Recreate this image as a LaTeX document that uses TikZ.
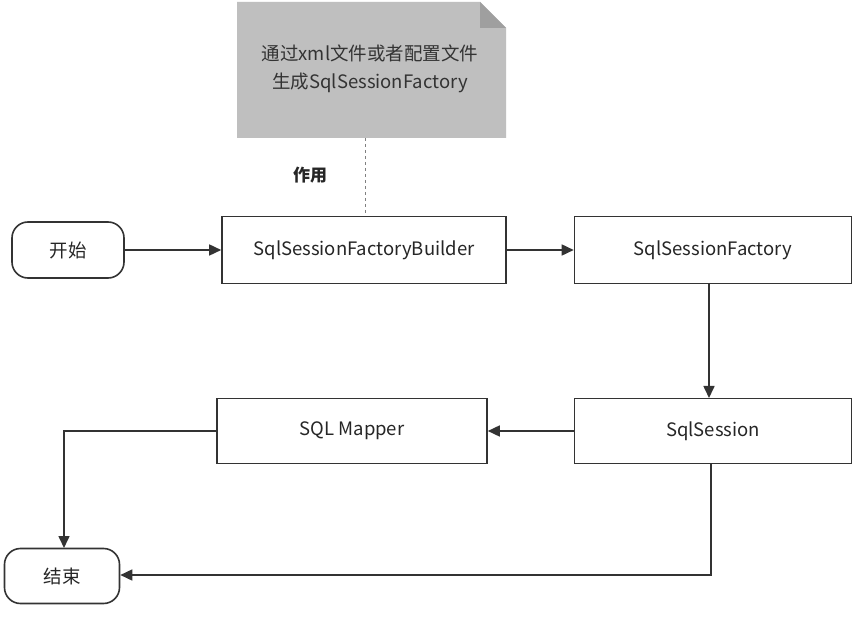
\documentclass[tikz,border=0pt]{standalone}
\usepackage{fontspec}
\setmainfont{Noto Sans CJK SC}
\usetikzlibrary{arrows.meta}
\begin{document}
\begin{tikzpicture}[x=1pt,y=-1pt,
  box/.style={draw=black!80,line width=1.6pt,fill=white,font=\fontsize{18.5}{21}\selectfont,inner sep=0pt,text=black!85},
  arr/.style={-{Triangle[length=12pt,width=11pt]},line width=1.6pt,draw=black!80}]
\useasboundingbox (0,0) rectangle (862,617);
\fill[white] (0,0) rectangle (862,617);
% note
\fill[gray!50] (237,2) -- (480,2) -- (506,28) -- (506,138) -- (237,138) -- cycle;
\fill[gray!75] (480,2) -- (480,28) -- (506,28) -- cycle;
\node[font=\fontsize{18.5}{28}\selectfont,align=center,text=black!80] (note) at (370,69) {通过xml文件或者配置文件\\生成SqlSessionFactory};
\coordinate (nb) at (365,138);
\node[font=\bfseries\fontsize{17}{19}\selectfont,text=black!85] (zy) at (310,175) {作用};
\node[box,rounded corners=16pt,minimum width=112pt,minimum height=56pt] (start) at (68,250) {开始};
\node[box,minimum width=284pt,minimum height=67pt] (b) at (364,250) {SqlSessionFactoryBuilder};
\node[box,minimum width=277pt,minimum height=67pt] (f) at (713,250) {SqlSessionFactory};
\node[box,minimum width=277pt,minimum height=65pt] (s) at (713,431) {SqlSession};
\node[box,minimum width=270pt,minimum height=65pt] (m) at (352,431) {SQL Mapper};
\node[box,rounded corners=16pt,minimum width=115pt,minimum height=55pt] (e) at (62,576) {结束};
\draw[dashed,gray,line width=1pt] (nb) -- (nb |- b.north);
\draw[arr] (start) -- (b);
\draw[arr] (b) -- (f);
\draw[arr] (709,283) -- (709,398);
\draw[arr] (s) -- (m);
\draw[arr] (m.west) -- (64,431) -- (64,548);
\draw[arr] (711,463) -- (711,575) -- (e.east |- 0,575);
\end{tikzpicture}
\end{document}
